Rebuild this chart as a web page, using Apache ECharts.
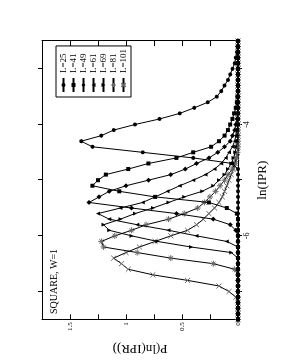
<!DOCTYPE html>
<html><head><meta charset="utf-8">
<script src="https://cdn.jsdelivr.net/npm/echarts@6/dist/echarts.min.js"></script>
<style>
html,body{margin:0;padding:0;width:281px;height:363px;overflow:hidden;background:#fff;}
#chart{position:absolute;left:-41px;top:41px;width:363px;height:281px;transform:rotate(-90deg);transform-origin:50% 50%;}
</style></head><body><div id="chart"></div>
<script>
// ln(IPR) bin centres
const lnIPR = [
-7.5,-7.4,-7.3,-7.2,-7.1,-7.0,-6.9,-6.8,-6.7,-6.6,
-6.5,-6.4,-6.3,-6.2,-6.1,-6.0,-5.9,-5.8,-5.7,-5.6,
-5.5,-5.4,-5.3,-5.2,-5.1,-5.0,-4.9,-4.8,-4.7,-4.6,
-4.5,-4.4,-4.3,-4.2,-4.1,-4.0,-3.9,-3.8,-3.7,-3.6,
-3.5,-3.4,-3.3,-3.2,-3.1,-3.0,-2.9,-2.8,-2.7,-2.6,
-2.5];
const P_L25 = [
0,0,0,0,0,0,0,0,0,0,
0,0,0,0,0,0,0,0,0,0,
0,0,0,0,0,0,0,0,0.05,0.40,
0.85,1.30,1.40,1.22,1.11,0.92,0.70,0.52,0.39,0.27,
0.19,0.15,0.12,0.09,0.07,0.05,0.03,0.02,0.01,0.005,
0];
const P_L41 = [
0,0,0,0,0,0,0,0,0,0,
0,0,0,0,0,0,0,0,0,0.01,
0.10,0.26,0.74,1.06,1.30,1.25,1.18,0.98,0.80,0.55,
0.40,0.24,0.17,0.12,0.09,0.07,0.05,0.035,0.02,0.01,
0.005,0,0,0,0,0,0,0,0,0,
0];
const P_L49 = [
0,0,0,0,0,0,0,0,0,0,
0,0,0,0,0,0,0.02,0.07,0.22,0.55,
0.95,1.33,1.24,1.15,1.00,0.80,0.60,0.47,0.37,0.26,
0.18,0.12,0.07,0.05,0.03,0.02,0.01,0.005,0,0,
0,0,0,0,0,0,0,0,0,0,
0];
const P_L61 = [
0,0,0,0,0,0,0,0,0,0,
0,0,0,0,0.10,0.37,0.62,0.90,1.15,1.25,
1.05,0.85,0.74,0.63,0.52,0.40,0.29,0.21,0.15,0.11,
0.08,0.05,0.03,0.02,0.01,0,0,0,0,0,
0,0,0,0,0,0,0,0,0,0,
0];
const P_L69 = [
0,0,0,0,0,0,0,0,0,0,
0,0,0.06,0.42,0.72,0.95,1.15,1.20,1.05,0.92,
0.76,0.62,0.48,0.32,0.22,0.17,0.12,0.09,0.06,0.04,
0.025,0.015,0.005,0,0,0,0,0,0,0,
0,0,0,0,0,0,0,0,0,0,
0];
const P_L81 = [
0,0,0,0,0,0,0,0,0,0.03,
0.22,0.60,0.90,1.20,1.22,1.10,0.95,0.82,0.62,0.48,
0.36,0.30,0.25,0.20,0.16,0.12,0.09,0.05,0.03,0.015,
0.005,0,0,0,0,0,0,0,0,0,
0,0,0,0,0,0,0,0,0,0,
0];
const P_L101 = [
0,0,0,0,0.02,0.08,0.17,0.45,0.76,0.98,
1.04,1.11,1.00,0.88,0.74,0.60,0.45,0.37,0.31,0.26,
0.21,0.17,0.14,0.12,0.10,0.08,0.06,0.04,0.02,0.01,
0.005,0,0,0,0,0,0,0,0,0,
0,0,0,0,0,0,0,0,0,0,
0];
const seriesNames = ['L=25','L=41','L=49','L=61','L=69','L=81','L=101'];
const lnTickValues = [-7,-6,-5,-4,-3];
const lnLabelValues = [-6,-4];
const pLabelValues = [0,0.5,1,1.5];
const titleText = 'SQUARE, W=1';
const xName = 'ln(IPR)';
const yName = 'P(ln(IPR))';

const FONT = '"Liberation Serif","DejaVu Serif",serif';
const allP = [P_L25,P_L41,P_L49,P_L61,P_L69,P_L81,P_L101];
const symbols = [
  'circle','rect','diamond','triangle',
  'path://M0,0 L10,0 L5,10 Z',
  'path://M5,0 L5,10 M0,5 L10,5 M1.5,1.5 L8.5,8.5 M8.5,1.5 L1.5,8.5',
  'path://M0,0 L10,10 M10,0 L0,10'
];
const symSizes = [4,4,5,4,4,6,5];
const isStroke = [false,false,false,false,false,true,true];

const series = allP.map((arr,k)=>({
  name: seriesNames[k],
  type:'line',
  z: 10 - k,
  data: lnIPR.map((x,i)=>[x,arr[i]]),
  symbol: symbols[k],
  symbolSize: symSizes[k],
  showSymbol:true,
  lineStyle:{color:'#000',width:1},
  itemStyle: isStroke[k] ? {color:'#fff',borderColor:'#666',borderWidth:1} : {color:'#000',borderWidth:0},
  emphasis:{disabled:true},
  animation:false,
  clip:true
}));

const chart = echarts.init(document.getElementById('chart'),null,{renderer:'canvas'});
const axisCommonX = {
  type:'value', min:-7.5, max:-2.5, interval:0.5,
  splitLine:{show:false},
  axisLine:{show:true,onZero:false,lineStyle:{color:'#000',width:1}},
};
const axisCommonY = {
  type:'value', min:0, max:1.75, interval:0.25,
  splitLine:{show:false},
  axisLine:{show:true,onZero:false,lineStyle:{color:'#000',width:1}},
};
chart.setOption({
  backgroundColor:'#fff',
  animation:false,
  grid:{left:41,right:41,top:42,bottom:43,containLabel:false},
  xAxis:[
    Object.assign({},axisCommonX,{
      position:'bottom',
      name:xName, nameLocation:'middle', nameGap:16,
      nameTextStyle:{fontFamily:FONT,fontSize:13,color:'#000'},
      axisTick:{show:true,inside:false,length:4,customValues:lnTickValues,lineStyle:{color:'#000'}},
      axisLabel:{show:true,customValues:lnLabelValues,margin:5,fontFamily:FONT,fontSize:8,color:'#000',formatter:v=>String(v)}
    }),
    Object.assign({},axisCommonX,{
      position:'top',
      axisTick:{show:true,inside:false,length:4,customValues:lnTickValues,lineStyle:{color:'#000'}},
      axisLabel:{show:false}
    })
  ],
  yAxis:[
    Object.assign({},axisCommonY,{
      position:'left',
      name:yName, nameLocation:'middle', nameGap:11, nameRotate:90,
      nameTextStyle:{fontFamily:FONT,fontSize:13,color:'#000'},
      axisTick:{show:true,inside:true,length:5,lineStyle:{color:'#000'}},
      axisLabel:{show:true,customValues:pLabelValues,margin:3,fontFamily:FONT,fontSize:7,color:'#000',formatter:v=>String(v)}
    }),
    Object.assign({},axisCommonY,{
      position:'right',
      axisTick:{show:true,inside:true,length:5,lineStyle:{color:'#000'}},
      axisLabel:{show:false}
    })
  ],
  legend:{
    orient:'vertical', left:266, top:56,
    data:seriesNames,
    borderColor:'#000', borderWidth:1, borderRadius:0,
    padding:[3,3,3,4], itemGap:1, itemWidth:14, itemHeight:5,
    textStyle:{fontFamily:FONT,fontSize:9,color:'#000',lineHeight:9},
    selectedMode:false
  },
  graphic:[{type:'text',left:49,top:49,style:{text:titleText,font:'10px "Liberation Serif"',fill:'#000'}}],
  series: series
});
</script></body></html>
